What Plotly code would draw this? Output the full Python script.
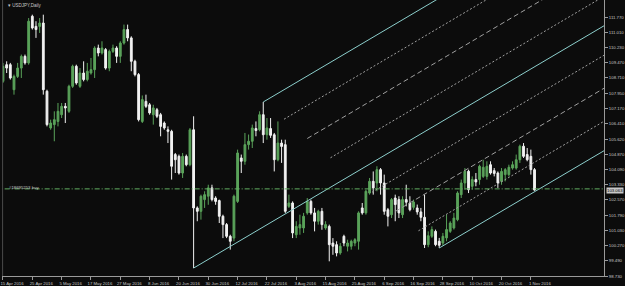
import plotly.graph_objects as go

# ---------------- data ----------------
idx = list(range(146))

opens = [
    108.54, 109.38, 109.38, 108.12, 108.79, 109.21, 109.80, 109.47, 111.82, 111.31,
    111.31, 111.48, 108.04, 106.19, 106.36, 106.52, 106.86, 107.28, 107.03, 108.29,
    109.30, 108.29, 108.96, 108.63, 108.96, 109.13, 110.22, 109.97, 110.14, 109.21,
    110.05, 110.22, 109.80, 110.47, 111.15, 110.73, 109.55, 108.88, 106.52, 107.53,
    107.36, 106.86, 107.11, 106.86, 106.44, 106.10, 106.02, 104.85, 104.76, 103.92,
    104.76, 104.34, 106.10, 102.16, 101.99, 102.58, 102.75, 103.17, 102.66, 102.53,
    101.74, 101.32, 100.73, 100.64, 102.49, 104.68, 104.51, 105.35, 105.52, 106.16,
    106.10, 106.86, 105.85, 106.16, 105.85, 104.59, 105.43, 105.35, 102.24, 102.41,
    100.81, 101.15, 101.15, 101.91, 102.49, 101.91, 101.49, 101.99, 101.15, 101.23,
    100.39, 100.31, 99.89, 100.73, 100.23, 100.23, 100.39, 100.48, 102.16, 101.91,
    102.91, 103.50, 103.42, 104.09, 103.42, 102.07, 101.82, 102.66, 102.58, 101.82,
    102.58, 102.41, 102.19, 102.16, 101.96, 101.69, 100.31, 100.73, 100.98, 100.48,
    100.39, 100.65, 100.98, 101.15, 101.57, 102.83, 103.42, 104.01, 103.25, 103.59,
    103.59, 103.75, 103.75, 104.34, 104.04, 103.92, 103.50, 103.84, 103.84, 104.17,
    104.17, 104.59, 105.27, 104.85, 104.76, 104.09,
]
highs = [
    109.47, 109.55, 109.47, 108.88, 109.47, 109.89, 109.89, 111.73, 111.90, 111.57,
    111.73, 111.90, 108.12, 106.61, 107.03, 107.45, 107.45, 107.45, 108.37, 109.38,
    109.38, 109.21, 109.55, 109.47, 109.72, 110.31, 110.39, 110.56, 110.22, 110.14,
    110.39, 110.31, 110.56, 111.40, 111.40, 110.81, 109.63, 108.96, 107.83, 107.87,
    107.45, 107.36, 107.20, 106.95, 106.52, 106.27, 106.10, 104.93, 104.85, 104.93,
    104.85, 106.19, 106.78, 102.24, 102.83, 103.00, 103.33, 103.33, 102.75, 102.58,
    101.82, 101.40, 100.81, 102.83, 105.10, 104.85, 105.94, 105.86, 106.36, 106.52,
    107.03, 107.50, 106.69, 106.69, 105.94, 106.52, 105.60, 105.60, 102.83, 102.49,
    101.49, 101.82, 101.91, 102.66, 102.58, 102.16, 102.07, 102.16, 101.49, 101.32,
    100.64, 100.48, 100.39, 100.81, 100.56, 100.56, 100.64, 101.99, 102.41, 103.08,
    103.67, 104.00, 104.26, 104.17, 103.84, 102.16, 102.66, 102.83, 102.75, 102.75,
    103.33, 102.75, 102.58, 102.33, 102.16, 102.83, 100.98, 101.23, 101.07, 100.65,
    100.90, 101.82, 101.49, 101.91, 103.00, 103.59, 104.17, 104.09, 103.75, 103.92,
    104.34, 104.59, 104.51, 104.51, 104.17, 104.00, 104.17, 104.17, 104.34, 104.51,
    104.85, 105.35, 105.43, 105.18, 105.10, 104.17,
]
lows = [
    108.46, 108.96, 108.63, 107.87, 108.71, 108.71, 109.38, 109.38, 111.15, 110.73,
    110.98, 107.87, 106.27, 106.10, 105.52, 106.27, 106.69, 106.44, 106.95, 108.21,
    108.37, 108.21, 108.54, 108.54, 108.88, 108.71, 109.80, 109.89, 109.13, 109.05,
    109.97, 109.47, 109.47, 110.39, 110.56, 109.05, 108.79, 106.52, 106.44, 107.20,
    106.86, 106.36, 106.69, 105.77, 106.10, 105.43, 103.59, 103.92, 103.84, 103.67,
    104.26, 104.26, 99.13, 101.49, 101.57, 102.16, 102.32, 102.49, 102.32, 101.40,
    100.64, 100.64, 100.06, 100.48, 102.41, 103.92, 104.34, 105.10, 105.18, 105.77,
    106.02, 105.43, 105.60, 105.69, 104.00, 104.51, 104.43, 101.90, 102.16, 100.64,
    100.64, 100.81, 100.90, 101.82, 101.82, 100.98, 101.32, 101.06, 101.06, 99.47,
    99.80, 99.72, 99.80, 100.23, 99.97, 100.06, 100.23, 100.06, 101.82, 101.82,
    102.83, 102.83, 103.00, 102.83, 101.82, 101.23, 101.65, 101.49, 101.65, 101.65,
    102.24, 101.99, 102.07, 101.82, 101.49, 100.14, 100.18, 100.65, 100.23, 100.14,
    100.27, 100.48, 100.90, 101.07, 101.49, 102.66, 103.08, 102.91, 103.08, 103.25,
    103.33, 103.67, 103.59, 103.84, 103.75, 103.17, 103.33, 103.50, 103.75, 104.09,
    104.09, 104.43, 104.68, 104.51, 103.84, 103.03,
]
closes = [
    109.30, 109.21, 108.71, 108.79, 109.21, 109.80, 109.47, 111.57, 111.23, 111.15,
    111.48, 108.12, 106.36, 106.44, 106.61, 107.03, 107.28, 107.20, 108.29, 109.30,
    108.46, 108.96, 108.63, 109.05, 109.13, 110.22, 109.97, 110.22, 109.21, 110.05,
    110.22, 109.80, 110.47, 111.15, 110.73, 109.55, 108.88, 106.61, 107.62, 107.28,
    106.95, 107.20, 106.78, 106.27, 106.19, 106.02, 104.26, 104.59, 103.92, 104.76,
    104.34, 106.10, 102.16, 101.99, 102.75, 102.83, 103.17, 102.58, 102.49, 101.74,
    101.32, 100.73, 100.48, 102.75, 104.93, 104.51, 105.35, 105.52, 106.19, 106.06,
    106.86, 105.85, 106.19, 105.82, 104.59, 105.43, 105.26, 101.99, 102.41, 100.90,
    101.23, 101.32, 101.74, 102.49, 101.91, 101.49, 101.99, 101.32, 101.32, 100.31,
    100.23, 99.89, 100.23, 100.39, 100.39, 100.48, 100.56, 101.91, 101.91, 103.00,
    103.50, 103.17, 104.09, 103.42, 101.99, 101.74, 102.58, 102.33, 101.91, 102.58,
    102.45, 102.07, 102.46, 101.96, 101.69, 100.31, 100.76, 101.07, 100.31, 100.28,
    100.73, 101.07, 101.40, 101.65, 102.91, 103.42, 104.01, 103.08, 103.59, 103.47,
    104.26, 104.21, 104.26, 103.92, 103.90, 103.42, 104.00, 104.09, 104.21, 104.34,
    104.59, 105.27, 104.76, 104.59, 104.09, 103.06,
]

y_tick_vals = [111.77, 111.01, 110.23, 109.47, 108.71, 107.95, 107.17, 106.41, 105.62,
               104.87, 104.09, 103.33, 102.57, 101.79, 101.03, 100.27, 99.49, 98.73]
x_tick_idx = [0, 8, 16, 24, 32, 40, 48, 56, 64, 72, 80, 88, 96, 104, 112, 120, 128, 136, 144]
x_tick_labels = ["15 Apr 2016", "25 Apr 2016", "5 May 2016", "17 May 2016", "27 May 2016",
                 "8 Jun 2016", "20 Jun 2016", "30 Jun 2016", "12 Jul 2016", "22 Jul 2016",
                 "3 Aug 2016", "15 Aug 2016", "25 Aug 2016", "6 Sep 2016", "16 Sep 2016",
                 "28 Sep 2016", "10 Oct 2016", "20 Oct 2016", "1 Nov 2016"]

# Andrews pitchfork anchors (bar index, price) and its level fractions
pf_idx = [52, 71, 119]
pf_price = [99.13, 107.50, 100.14]
pf_levels = [0.236, 0.5, 0.764]

order_price = 103.12
order_label = "#18695253 buy"
bid_price = 103.063
symbol_label = "\u25be USDJPY,Daily"

# ---------------- styling ----------------
BG = "#0c0c0c"
BULL = "#5aa35a"
BEAR = "#f2f2f2"
TEAL = "#8ccfcc"
LEVEL = "#a0a0a0"
AXIS = "#9a9a9a"
TXT = "#c8c8c8"
FONT = "Liberation Sans, Arial, sans-serif"
X_END = 175

fig = go.Figure()
fig.add_trace(go.Candlestick(
    x=idx, open=opens, high=highs, low=lows, close=closes,
    increasing=dict(line=dict(color=BULL, width=1), fillcolor=BULL),
    decreasing=dict(line=dict(color=BEAR, width=1), fillcolor=BEAR),
    whiskerwidth=0, showlegend=False, hoverinfo="skip",
))

# pitchfork geometry
(x1, x2, x3) = pf_idx
(y1, y2, y3) = pf_price
mx, my = (x2 + x3) / 2, (y2 + y3) / 2
slope = (my - y1) / (mx - x1)


def ray(x0, y0, dash, color, width=1):
    fig.add_trace(go.Scatter(
        x=[x0, X_END], y=[y0, y0 + slope * (X_END - x0)], mode="lines",
        line=dict(color=color, width=width, dash=dash),
        showlegend=False, hoverinfo="skip"))


ray(x1, y1, "solid", TEAL)   # median
ray(x2, y2, "solid", TEAL)   # upper tine
ray(x3, y3, "solid", TEAL)   # lower tine
for f in pf_levels:
    dash = "5px,3px" if f == 0.5 else "2px,2px"
    ray(x2 + f * (mx - x2), y2 + f * (my - y2), dash, LEVEL)
    ray(mx + f * (x3 - mx), my + f * (y3 - my), dash, LEVEL)

# order line
fig.add_trace(go.Scatter(
    x=[-5, X_END], y=[order_price, order_price], mode="lines",
    line=dict(color="#62b062", width=1, dash="5px,2px,1px,2px"),
    showlegend=False, hoverinfo="skip"))

fig.update_layout(
    width=625, height=286,
    margin=dict(l=0, r=20, t=0, b=10),
    paper_bgcolor=BG, plot_bgcolor=BG,
    font=dict(family=FONT, color=TXT, size=4.3),
    xaxis=dict(
        range=[-0.27, 163.95], tickvals=x_tick_idx, ticktext=x_tick_labels,
        showgrid=False, zeroline=False, showline=True, linecolor=AXIS, linewidth=1,
        ticks="outside", ticklen=3, tickcolor=AXIS, tickwidth=1,
        tickfont=dict(size=4.3, color=TXT, family=FONT), ticklabelshift=9,
        ticklabeloverflow="allow",
        rangeslider=dict(visible=False), fixedrange=True,
    ),
    yaxis=dict(
        side="right", range=[98.73, 112.64], tickvals=y_tick_vals,
        ticktext=[f"{v:.3f}" for v in y_tick_vals],
        showgrid=False, zeroline=False, showline=True, linecolor=AXIS, linewidth=1,
        ticks="outside", ticklen=3, tickcolor=AXIS, tickwidth=1,
        tickfont=dict(size=4.3, color=TXT, family=FONT), fixedrange=True,
        ticklabeloverflow="allow",
    ),
    shapes=[dict(type="line", xref="paper", yref="paper", x0=0.001, x1=0.001, y0=0, y1=1,
                 line=dict(color="#4a4a4a", width=1))],
    annotations=[
        dict(text=symbol_label, xref="paper", yref="paper", x=0.006, y=1, xanchor="left",
             yanchor="top", yshift=-1, showarrow=False, font=dict(size=4.5, color=TXT, family=FONT)),
        dict(text=order_label, xref="paper", yref="y", x=0.008, y=order_price, xanchor="left",
             yanchor="bottom", yshift=-3, showarrow=False, font=dict(size=4.3, color=TXT, family=FONT)),
        dict(text=f"{bid_price:.3f}", xref="paper", yref="y", x=1, y=bid_price, xanchor="left",
             yanchor="middle", xshift=2, showarrow=False, bgcolor="#c8c8c8", borderpad=0,
             font=dict(size=4.3, color="#000000", family=FONT)),
    ],
)

fig.write_html("out.html")
